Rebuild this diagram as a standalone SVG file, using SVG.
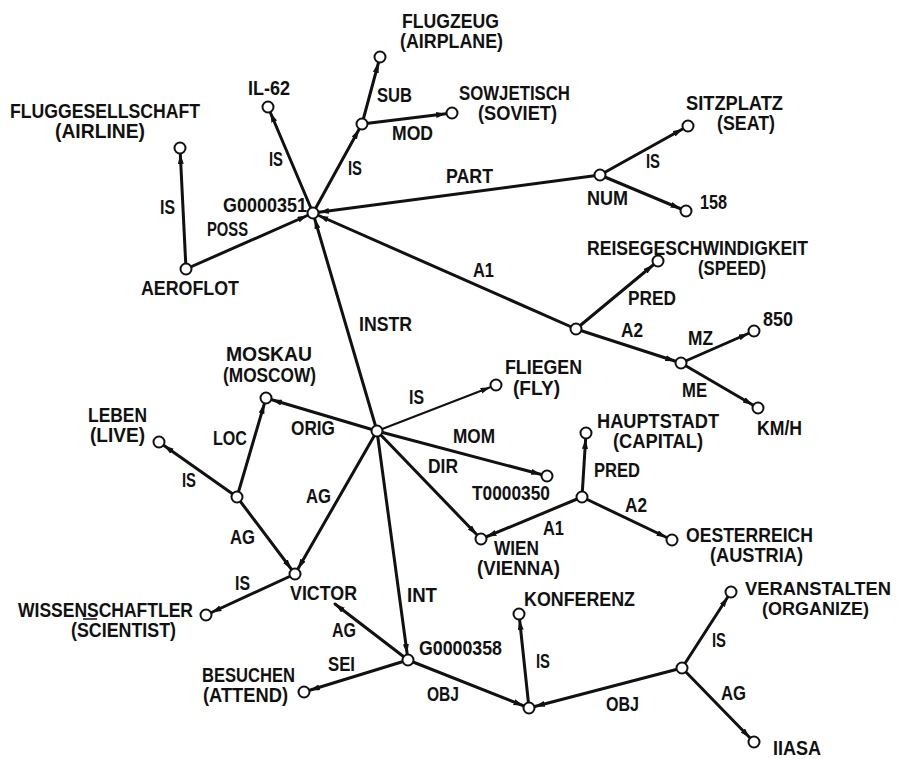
<svg xmlns="http://www.w3.org/2000/svg" width="901" height="759" viewBox="0 0 901 759">
  <style>
    .edge { stroke: #111; stroke-width: 3; fill: none; stroke-linecap: round; marker-end: url(#arrow); }
    .thin { stroke-width: 2; }
    .tip { marker-end: url(#arrowTip); }
    .node circle { fill: #fff; stroke: #111; stroke-width: 2; }
    text { font-family: "Liberation Sans", Arial, sans-serif; font-weight: bold; font-size: 20px; fill: #111; }
    .sm { font-size: 18px; }
  </style>
  <defs>
    <marker id="arrow" markerUnits="userSpaceOnUse" markerWidth="18" markerHeight="8" refX="16" refY="3" orient="auto">
      <path d="M0,0 L10,3 L0,6 z" fill="#111"/>
    </marker>
    <marker id="arrowTip" markerUnits="userSpaceOnUse" markerWidth="12" markerHeight="8" refX="10" refY="3" orient="auto">
      <path d="M0,0 L10,3 L0,6 z" fill="#111"/>
    </marker>
  </defs>
  <rect width="901" height="759" fill="#fff"/>

  <!-- relations -->
  <g id="connectors">
    <line class="edge" x1="313" y1="213" x2="268" y2="107"/>
    <line class="edge" x1="186" y1="269" x2="180" y2="148"/>
    <line class="edge" x1="186" y1="269" x2="313" y2="213"/>
    <line class="edge" x1="313" y1="213" x2="362" y2="124"/>
    <line class="edge" x1="362" y1="124" x2="380" y2="57"/>
    <line class="edge" x1="362" y1="124" x2="452" y2="113"/>
    <line class="edge" x1="600" y1="175" x2="313" y2="213"/>
    <line class="edge" x1="600" y1="175" x2="688" y2="126"/>
    <line class="edge" x1="600" y1="175" x2="686" y2="211"/>
    <line class="edge" x1="576" y1="329" x2="313" y2="213"/>
    <line class="edge" x1="576" y1="329" x2="658" y2="261"/>
    <line class="edge" x1="576" y1="329" x2="681" y2="363"/>
    <line class="edge" x1="681" y1="363" x2="754" y2="331"/>
    <line class="edge" x1="681" y1="363" x2="758" y2="408"/>
    <line class="edge" x1="377" y1="431" x2="313" y2="213"/>
    <line class="edge thin" x1="377" y1="431" x2="496" y2="385"/>
    <line class="edge" x1="377" y1="431" x2="547" y2="476"/>
    <line class="edge" x1="377" y1="431" x2="481" y2="539"/>
    <line class="edge" x1="377" y1="431" x2="266" y2="398"/>
    <line class="edge" x1="377" y1="431" x2="295" y2="574"/>
    <line class="edge" x1="377" y1="431" x2="408" y2="660"/>
    <line class="edge" x1="237" y1="497" x2="159" y2="442"/>
    <line class="edge" x1="237" y1="497" x2="266" y2="398"/>
    <line class="edge" x1="237" y1="497" x2="295" y2="574"/>
    <line class="edge" x1="295" y1="574" x2="206" y2="615"/>
    <line class="edge tip" x1="408" y1="660" x2="335" y2="604"/>
    <line class="edge" x1="408" y1="660" x2="304" y2="692"/>
    <line class="edge" x1="408" y1="660" x2="529" y2="708"/>
    <line class="edge" x1="682" y1="668" x2="529" y2="708"/>
    <line class="edge" x1="529" y1="708" x2="519" y2="614"/>
    <line class="edge" x1="682" y1="668" x2="731" y2="592"/>
    <line class="edge" x1="682" y1="668" x2="754" y2="742"/>
    <line class="edge" x1="582" y1="497" x2="586" y2="433"/>
    <line class="edge" x1="582" y1="497" x2="481" y2="539"/>
    <line class="edge" x1="582" y1="497" x2="672" y2="540"/>
  </g>

  <!-- relation labels -->
  <g id="edge-labels">
    <text x="160" y="214" textLength="15" lengthAdjust="spacingAndGlyphs">IS</text>
    <text x="269" y="166" textLength="14" lengthAdjust="spacingAndGlyphs">IS</text>
    <text x="207" y="236" textLength="41" lengthAdjust="spacingAndGlyphs">POSS</text>
    <text x="377" y="102" textLength="35" lengthAdjust="spacingAndGlyphs">SUB</text>
    <text x="392" y="140" textLength="41" lengthAdjust="spacingAndGlyphs">MOD</text>
    <text x="348" y="175" textLength="14" lengthAdjust="spacingAndGlyphs">IS</text>
    <text x="446" y="183" textLength="47" lengthAdjust="spacingAndGlyphs">PART</text>
    <text x="646" y="168" textLength="14" lengthAdjust="spacingAndGlyphs">IS</text>
    <text x="628" y="305" textLength="48" lengthAdjust="spacingAndGlyphs">PRED</text>
    <text x="473" y="277" textLength="21" lengthAdjust="spacingAndGlyphs">A1</text>
    <text x="621" y="337" textLength="22" lengthAdjust="spacingAndGlyphs">A2</text>
    <text x="688" y="345" textLength="25" lengthAdjust="spacingAndGlyphs">MZ</text>
    <text x="682" y="397" textLength="25" lengthAdjust="spacingAndGlyphs">ME</text>
    <text x="359" y="331" textLength="53" lengthAdjust="spacingAndGlyphs">INSTR</text>
    <text x="409" y="404" textLength="15" lengthAdjust="spacingAndGlyphs">IS</text>
    <text x="291" y="435" textLength="44" lengthAdjust="spacingAndGlyphs">ORIG</text>
    <text x="453" y="443" textLength="42" lengthAdjust="spacingAndGlyphs">MOM</text>
    <text x="428" y="473" textLength="30" lengthAdjust="spacingAndGlyphs">DIR</text>
    <text x="594" y="477" textLength="46" lengthAdjust="spacingAndGlyphs">PRED</text>
    <text x="213" y="445" textLength="34" lengthAdjust="spacingAndGlyphs">LOC</text>
    <text x="182" y="487" textLength="14" lengthAdjust="spacingAndGlyphs">IS</text>
    <text x="306" y="503" textLength="25" lengthAdjust="spacingAndGlyphs">AG</text>
    <text x="543" y="535" textLength="21" lengthAdjust="spacingAndGlyphs">A1</text>
    <text x="625" y="512" textLength="22" lengthAdjust="spacingAndGlyphs">A2</text>
    <text x="230" y="544" textLength="25" lengthAdjust="spacingAndGlyphs">AG</text>
    <text x="235" y="590" textLength="15" lengthAdjust="spacingAndGlyphs">IS</text>
    <text x="407" y="602" textLength="30" lengthAdjust="spacingAndGlyphs">INT</text>
    <text x="332" y="637" textLength="24" lengthAdjust="spacingAndGlyphs">AG</text>
    <text x="328" y="671" textLength="27" lengthAdjust="spacingAndGlyphs">SEI</text>
    <text x="536" y="668" textLength="14" lengthAdjust="spacingAndGlyphs">IS</text>
    <text x="427" y="701" textLength="32" lengthAdjust="spacingAndGlyphs">OBJ</text>
    <text x="606" y="711" textLength="33" lengthAdjust="spacingAndGlyphs">OBJ</text>
    <text x="712" y="647" textLength="14" lengthAdjust="spacingAndGlyphs">IS</text>
    <text x="721" y="700" textLength="25" lengthAdjust="spacingAndGlyphs">AG</text>
  </g>

  <!-- concept nodes -->
  <g id="g0000351" class="node"><circle cx="313" cy="213" r="5.5"/><text x="223" y="212" textLength="84" lengthAdjust="spacingAndGlyphs">G0000351</text></g>
  <g id="il62" class="node"><circle cx="268" cy="107" r="5.5"/><text x="248" y="95" textLength="42" lengthAdjust="spacingAndGlyphs">IL-62</text></g>
  <g id="fluggesellschaft" class="node"><circle cx="180" cy="148" r="5.5"/><text x="10" y="118" textLength="190" lengthAdjust="spacingAndGlyphs">FLUGGESELLSCHAFT</text><text x="55" y="138" textLength="90" lengthAdjust="spacingAndGlyphs">(AIRLINE)</text></g>
  <g id="aeroflot" class="node"><circle cx="186" cy="269" r="5.5"/><text x="141" y="295" textLength="98" lengthAdjust="spacingAndGlyphs">AEROFLOT</text></g>
  <g id="airplane-type" class="node"><circle cx="362" cy="124" r="5.5"/></g>
  <g id="flugzeug" class="node"><circle cx="380" cy="57" r="5.5"/><text x="402" y="28" textLength="97" lengthAdjust="spacingAndGlyphs">FLUGZEUG</text><text x="400" y="48" textLength="103" lengthAdjust="spacingAndGlyphs">(AIRPLANE)</text></g>
  <g id="sowjetisch" class="node"><circle cx="452" cy="113" r="5.5"/><text x="459" y="100" textLength="111" lengthAdjust="spacingAndGlyphs">SOWJETISCH</text><text x="478" y="120" textLength="79" lengthAdjust="spacingAndGlyphs">(SOVIET)</text></g>
  <g id="num" class="node"><circle cx="600" cy="175" r="5.5"/><text x="587" y="205" textLength="41" lengthAdjust="spacingAndGlyphs">NUM</text></g>
  <g id="sitzplatz" class="node"><circle cx="688" cy="126" r="5.5"/><text x="686" y="110" textLength="97" lengthAdjust="spacingAndGlyphs">SITZPLATZ</text><text x="717" y="130" textLength="58" lengthAdjust="spacingAndGlyphs">(SEAT)</text></g>
  <g id="n158" class="node"><circle cx="686" cy="211" r="5.5"/><text x="700" y="209" textLength="27" lengthAdjust="spacingAndGlyphs">158</text></g>
  <g id="speed-value" class="node"><circle cx="576" cy="329" r="5.5"/></g>
  <g id="reisegeschwindigkeit" class="node"><circle cx="658" cy="261" r="5.5"/><text x="587" y="255" textLength="221" lengthAdjust="spacingAndGlyphs">REISEGESCHWINDIGKEIT</text><text x="698" y="275" textLength="68" lengthAdjust="spacingAndGlyphs">(SPEED)</text></g>
  <g id="measure" class="node"><circle cx="681" cy="363" r="5.5"/></g>
  <g id="n850" class="node"><circle cx="754" cy="331" r="5.5"/><text x="763" y="326" textLength="30" lengthAdjust="spacingAndGlyphs">850</text></g>
  <g id="kmh" class="node"><circle cx="758" cy="408" r="5.5"/><text x="757" y="435" textLength="45" lengthAdjust="spacingAndGlyphs">KM/H</text></g>
  <g id="flight-event" class="node"><circle cx="377" cy="431" r="5.5"/></g>
  <g id="fliegen" class="node"><circle cx="496" cy="385" r="5.5"/><text x="505" y="374" textLength="77" lengthAdjust="spacingAndGlyphs">FLIEGEN</text><text x="513" y="395" textLength="47" lengthAdjust="spacingAndGlyphs">(FLY)</text></g>
  <g id="t0000350" class="node"><circle cx="547" cy="476" r="5.5"/><text x="472" y="500" textLength="78" lengthAdjust="spacingAndGlyphs">T0000350</text></g>
  <g id="hauptstadt" class="node"><circle cx="586" cy="433" r="5.5"/><text x="597" y="428" textLength="122" lengthAdjust="spacingAndGlyphs">HAUPTSTADT</text><text x="613" y="448" textLength="90" lengthAdjust="spacingAndGlyphs">(CAPITAL)</text></g>
  <g id="capital-of" class="node"><circle cx="582" cy="497" r="5.5"/></g>
  <g id="wien" class="node"><circle cx="481" cy="539" r="5.5"/><text x="494" y="555" textLength="45" lengthAdjust="spacingAndGlyphs">WIEN</text><text x="477" y="575" textLength="83" lengthAdjust="spacingAndGlyphs">(VIENNA)</text></g>
  <g id="oesterreich" class="node"><circle cx="672" cy="540" r="5.5"/><text x="686" y="542" textLength="127" lengthAdjust="spacingAndGlyphs">OESTERREICH</text><text x="710" y="562" textLength="93" lengthAdjust="spacingAndGlyphs">(AUSTRIA)</text></g>
  <g id="moskau" class="node"><circle cx="266" cy="398" r="5.5"/><text x="226" y="361" textLength="86" lengthAdjust="spacingAndGlyphs">MOSKAU</text><text x="223" y="382" textLength="93" lengthAdjust="spacingAndGlyphs">(MOSCOW)</text></g>
  <g id="leben" class="node"><circle cx="159" cy="442" r="5.5"/><text x="88" y="422" textLength="59" lengthAdjust="spacingAndGlyphs">LEBEN</text><text x="90" y="442" textLength="55" lengthAdjust="spacingAndGlyphs">(LIVE)</text></g>
  <g id="living" class="node"><circle cx="237" cy="497" r="5.5"/></g>
  <g id="victor" class="node"><circle cx="295" cy="574" r="5.5"/><text x="290" y="600" textLength="67" lengthAdjust="spacingAndGlyphs">VICTOR</text></g>
  <g id="wissenschaftler" class="node"><circle cx="206" cy="615" r="5.5"/><text x="18" y="617" textLength="175" lengthAdjust="spacingAndGlyphs">WISSENSCHAFTLER</text><text x="71" y="637" textLength="105" lengthAdjust="spacingAndGlyphs">(SCIENTIST)</text><line x1="83" y1="619" x2="97" y2="619" stroke="#111" stroke-width="1.5"/></g>
  <g id="g0000358" class="node"><circle cx="408" cy="660" r="5.5"/><text x="419" y="655" textLength="83" lengthAdjust="spacingAndGlyphs">G0000358</text></g>
  <g id="besuchen" class="node"><circle cx="304" cy="692" r="5.5"/><text x="202" y="682" textLength="93" lengthAdjust="spacingAndGlyphs">BESUCHEN</text><text x="203" y="702" textLength="85" lengthAdjust="spacingAndGlyphs">(ATTEND)</text></g>
  <g id="konferenz" class="node"><circle cx="519" cy="614" r="5.5"/><text x="524" y="606" textLength="111" lengthAdjust="spacingAndGlyphs">KONFERENZ</text></g>
  <g id="conference" class="node"><circle cx="529" cy="708" r="5.5"/></g>
  <g id="organizing" class="node"><circle cx="682" cy="668" r="5.5"/></g>
  <g id="veranstalten" class="node"><circle cx="731" cy="592" r="5.5"/><text class="sm" x="745" y="595" textLength="146" lengthAdjust="spacingAndGlyphs">VERANSTALTEN</text><text class="sm" x="762" y="615" textLength="107" lengthAdjust="spacingAndGlyphs">(ORGANIZE)</text></g>
  <g id="iiasa" class="node"><circle cx="754" cy="742" r="5.5"/><text x="773" y="755" textLength="48" lengthAdjust="spacingAndGlyphs">IIASA</text></g>
</svg>
